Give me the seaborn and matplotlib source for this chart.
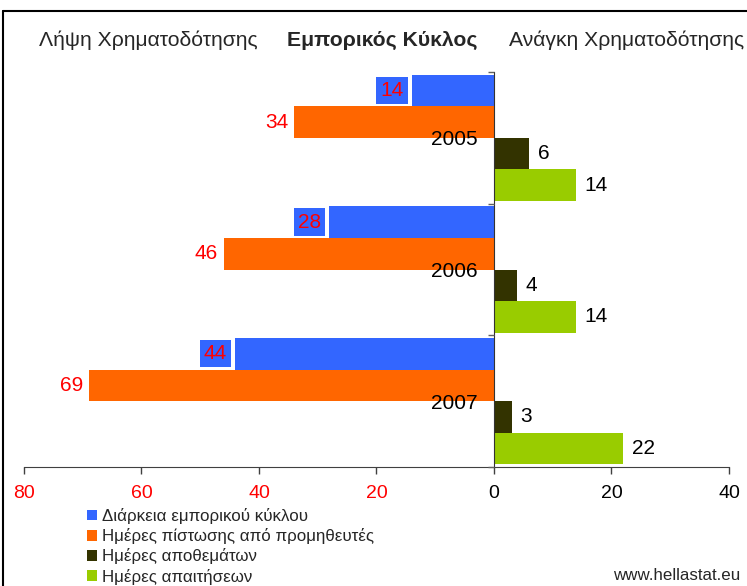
import pandas as pd
import seaborn as sns
import matplotlib.pyplot as plt
from matplotlib.lines import Line2D

# datos
years = ["2005", "2006", "2007"]
series = ["Διάρκεια εμπορικού κύκλου", "Ημέρες πίστωσης από προμηθευτές",
          "Ημέρες αποθεμάτων", "Ημέρες απαιτήσεων"]
diarkeia = [14, 28, 44]
pistosi = [34, 46, 69]
apothemata = [6, 4, 3]
apaitiseis = [14, 14, 22]
colors = ["#3366FF", "#FF6600", "#333300", "#99CC00"]
xticks = [-80, -60, -40, -20, 0, 20, 40]

# los dos primeros van hacia la izquierda (negativos)
signed = {
    series[0]: [-v for v in diarkeia],
    series[1]: [-v for v in pistosi],
    series[2]: apothemata,
    series[3]: apaitiseis,
}
rows = []
for s, vals in signed.items():
    for y, v in zip(years, vals):
        rows.append({"year": y, "serie": s, "valor": v})
df = pd.DataFrame(rows)

sns.set_style("white")
plt.rcParams["font.family"] = ["Liberation Sans", "DejaVu Sans"]

fig = plt.figure(figsize=(7.47, 5.86), dpi=100)
ax = fig.add_axes([24 / 747, 1 - 467 / 586, (729 - 24) / 747, (467 - 72) / 586])

sns.barplot(data=df, y="year", x="valor", hue="serie", hue_order=series,
            palette=colors, orient="h", width=0.96, ax=ax, legend=False,
            saturation=1, edgecolor="none")

ax.set_xlim(-80, 40)
ax.set_ylim(2.5, -0.5)
ax.set_xlabel("")
ax.set_ylabel("")
ax.set_axisbelow(False)
ax.yaxis.set_zorder(5)

# etiquetas de datos
raw = [diarkeia, pistosi, apothemata, apaitiseis]
ax.bar_label(ax.containers[0], labels=[str(v) for v in raw[0]], padding=6,
             color="red", fontsize=15,
             bbox=dict(boxstyle="square,pad=0.2", fc=colors[0], ec="none"))
ax.bar_label(ax.containers[1], labels=[str(v) for v in raw[1]], padding=4,
             color="red", fontsize=15)
ax.bar_label(ax.containers[2], labels=[str(v) for v in raw[2]], padding=6,
             color="black", fontsize=15)
ax.bar_label(ax.containers[3], labels=[str(v) for v in raw[3]], padding=6,
             color="black", fontsize=15)

# ejes
for s in ["top", "right"]:
    ax.spines[s].set_visible(False)
ax.spines["left"].set_position(("data", 0))
ax.spines["left"].set_color("#333333")
ax.spines["bottom"].set_color("#404040")

ax.set_xticks(xticks)
ax.set_xticklabels([str(abs(t)) for t in xticks], fontsize=14)
for lbl, t in zip(ax.get_xticklabels(), xticks):
    lbl.set_color("red" if t < 0 else "black")
ax.tick_params(axis="x", direction="out", length=5, width=1, color="#404040", bottom=True, pad=8)

ax.set_yticks([0, 1, 2])
ax.set_yticklabels(years, fontsize=15, color="black")
ax.set_yticks([-0.5, 0.5, 1.5, 2.5], minor=True)
ax.tick_params(axis="y", which="major", length=0, pad=12, left=True)
ax.tick_params(axis="y", which="minor", length=4, width=1, color="#606060", direction="out", left=True)

# títulos superiores
fig.text(148 / 747, 1 - 40 / 586, "Λήψη Χρηματοδότησης", ha="center", va="center", fontsize=15.2)
fig.text(382 / 747, 1 - 40 / 586, "Εμπορικός Κύκλος", ha="center", va="center",
         fontsize=15.2, fontweight="bold")
fig.text(627 / 747, 1 - 40 / 586, "Ανάγκη Χρηματοδότησης", ha="center", va="center", fontsize=15.2)

# leyenda
handles = [plt.Rectangle((0, 0), 1, 1, fc=c, ec="none") for c in colors]
ax.legend(handles, series, loc="upper left", bbox_to_anchor=(87 / 747, 1 - 508 / 586),
          bbox_transform=fig.transFigure, frameon=False, fontsize=12.2,
          handlelength=0.6, handleheight=0.6, handletextpad=0.3,
          labelspacing=0.25, borderpad=0, borderaxespad=0)

fig.text(740 / 747, 1 - 576 / 586, "www.hellastat.eu", ha="right", va="center", fontsize=12.2)

# marco
fig.add_artist(Line2D([3 / 747, 3 / 747], [0, 1 - 11 / 586], transform=fig.transFigure,
                      color="black", lw=1.5))
fig.add_artist(Line2D([3 / 747, 1], [1 - 11 / 586, 1 - 11 / 586], transform=fig.transFigure,
                      color="black", lw=1.5))

fig.savefig("out.png", dpi=100)
